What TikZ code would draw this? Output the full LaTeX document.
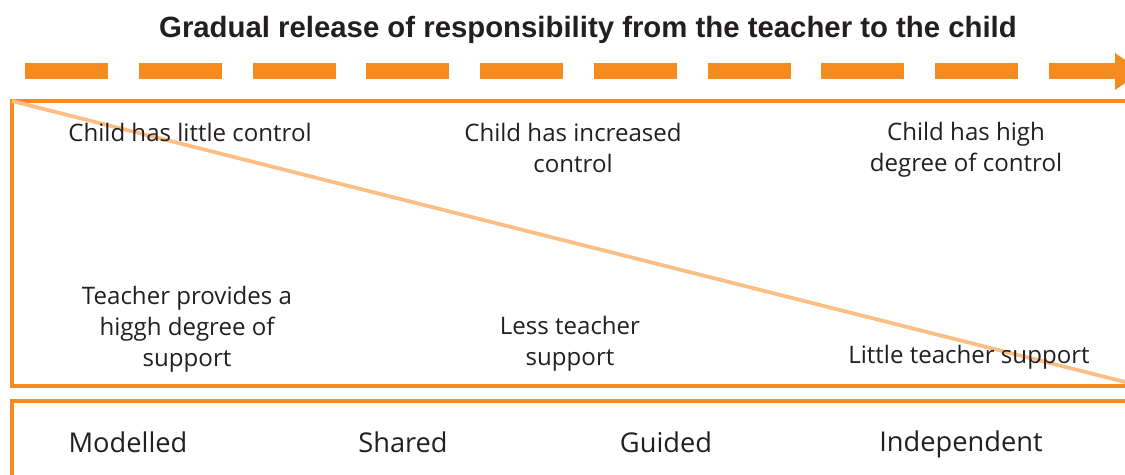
\documentclass[tikz,border=0pt]{standalone}
\usepackage{fontspec}
\setmainfont{Open Sans}
\newfontfamily\titlefont{Liberation Sans}
\usepackage{xcolor}
\usetikzlibrary{calc, positioning}

\definecolor{relorange}{HTML}{F68B1F}
\definecolor{lightorange}{HTML}{FBBE84}
\definecolor{inkgrey}{HTML}{231F20}

\begin{document}
\begin{tikzpicture}[x=0.02cm, y=-0.02cm,
    frame/.style={draw=relorange, line width=0.08cm},
    txt/.style={text=inkgrey, align=center, font=\fontsize{13.7}{17.6}\selectfont, inner sep=0pt},
    stage/.style={text=inkgrey, font=\fontsize{15.5}{18}\selectfont, inner sep=0pt}]
    \useasboundingbox (0,0) rectangle (1125,475);
    \clip (0,0) rectangle (1125,475);

    % 1. Tieu de va mui ten dut net
    \node[text=inkgrey, font=\titlefont\bfseries\fontsize{16.7}{19}\selectfont, inner sep=0pt] (title) at (588,30)
        {Gradual release of responsibility from the teacher to the child};
    \coordinate (arrS) at (25,71.5);
    \coordinate (arrE) at (1117,71.5);
    \draw[relorange, line width=0.32cm, dash pattern=on 1.66cm off 0.616cm] (arrS) -- (arrE);
    \fill[relorange] (1115,53) -- (1142,71.5) -- (1115,90) -- cycle;

    % 2. Khung tren va duong cheo
    \coordinate (topL) at (12,101);
    \coordinate (botL) at (12,386);
    \draw[frame] (1140,101) -- (topL) -- (botL) -- (1140,386);
    \coordinate (diagE) at (1125,382);
    \draw[lightorange, line width=0.075cm] (topL) -- (diagE);

    % 3. Cac dong chu trong khung tren
    \node[txt] (ctrlA) at (190,132) {Child has little control};
    \node[txt] (ctrlB) at (573,148) {Child has increased\\control};
    \node[txt] (ctrlC) at (966,150) {Child has high\\degree of control};
    \node[txt] (suppA) at (187,329) {Teacher provides a\\higgh degree of\\support};
    \node[txt] (suppB) at (570,344) {Less teacher\\support};
    \node[txt] (suppC) at (969,357) {Little teacher support};

    % 4. Khung duoi va cac giai doan
    \draw[frame] (12,480) -- (12,401) -- (1140,401);
    \node[stage] (stageA) at (128,442) {Modelled};
    \node[stage] (stageB) at (403,442) {Shared};
    \node[stage] (stageC) at (666,442) {Guided};
    \node[stage] (stageD) at (961,444) {Independent};
\end{tikzpicture}
\end{document}
